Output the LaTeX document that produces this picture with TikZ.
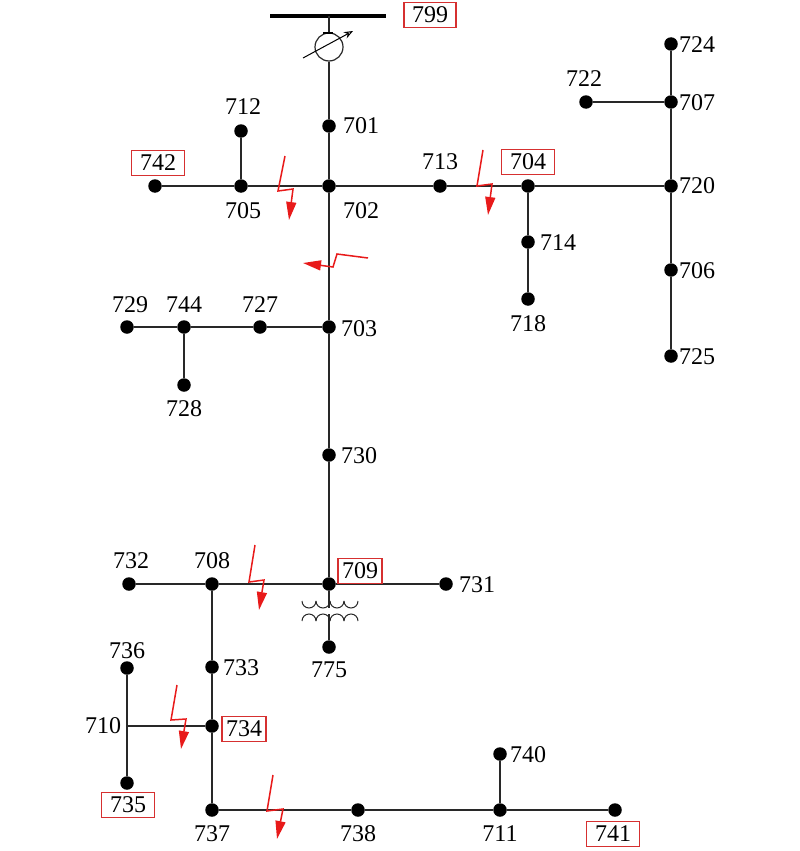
\documentclass[tikz,border=0pt]{standalone}
\usepackage{fontspec}
\setmainfont{Liberation Serif}
\usetikzlibrary{arrows.meta}
\definecolor{boxred}{RGB}{214,48,48}
\definecolor{fault}{RGB}{232,26,26}
\definecolor{wire}{RGB}{40,40,40}
\begin{document}
\begin{tikzpicture}[x=1pt,y=-1pt,
  bus/.style={circle,fill=black,inner sep=0pt,minimum size=13.5pt},
  lbl/.style={inner sep=0pt,font=\fontsize{24}{24}\selectfont},
  rbox/.style={draw=boxred,line width=1.2pt,inner sep=0pt,minimum width=53pt,minimum height=25pt,font=\fontsize{24}{24}\selectfont},
  sbox/.style={rbox,minimum width=44pt},
  wireline/.style={draw=wire,line width=1.4pt},
  faultarrow/.style={draw=fault,line width=1.5pt,-{Triangle[length=18pt,width=10pt]},fault}
]
\useasboundingbox (0,0) rectangle (800,851);

% source busbar and generator
\coordinate (barL) at (270,16);
\coordinate (barR) at (386,16);
\draw[line width=4.5pt,black] (barL) -- (barR);
\node[rbox,minimum width=52pt] (l799) at (430,15) {799};
\node[circle,draw=wire,line width=1.2pt,minimum size=28pt,inner sep=0pt] (gen) at (329,47) {};
\coordinate (barM) at (329,16);
\draw[wireline] (barM) -- (gen.north);
\coordinate (dashL) at (323,33);
\coordinate (dashR) at (333,33);
\draw[line width=2.2pt,black] (dashL) -- (dashR);
\coordinate (arrS) at (303,58);
\coordinate (arrE) at (353,31);
\draw[line width=1pt,black,-{Stealth[open,length=9pt,width=7pt]}] (arrS) -- (arrE);

% bus nodes
\node[bus] (n701) at (329,126) {};
\node[bus] (n702) at (329,186) {};
\node[bus] (n712) at (241,131) {};
\node[bus] (n705) at (241,186) {};
\node[bus] (n742) at (155,186) {};
\node[bus] (n713) at (440,186) {};
\node[bus] (n704) at (528,186) {};
\node[bus] (n720) at (671,186) {};
\node[bus] (n714) at (528,242) {};
\node[bus] (n718) at (528,299) {};
\node[bus] (n707) at (671,102) {};
\node[bus] (n724) at (671,44) {};
\node[bus] (n722) at (586,102) {};
\node[bus] (n706) at (671,270) {};
\node[bus] (n725) at (671,356) {};
\node[bus] (n703) at (329,327) {};
\node[bus] (n727) at (260,327) {};
\node[bus] (n744) at (184,327) {};
\node[bus] (n729) at (127,327) {};
\node[bus] (n728) at (184,385) {};
\node[bus] (n730) at (329,455) {};
\node[bus] (n709) at (329,584) {};
\node[bus] (n731) at (446,584) {};
\node[bus] (n708) at (212,584) {};
\node[bus] (n732) at (129,584) {};
\node[bus] (n775) at (329,647) {};
\node[bus] (n733) at (212,667) {};
\node[bus] (n734) at (212,726) {};
\coordinate (n710) at (127,726);
\node[bus] (n736) at (127,668) {};
\node[bus] (n735) at (127,783) {};
\node[bus] (n737) at (212,810) {};
\node[bus] (n738) at (358,810) {};
\node[bus] (n711) at (500,810) {};
\node[bus] (n740) at (500,754) {};
\node[bus] (n741) at (615,810) {};

% lines
\draw[wireline] (gen.south) -- (n701) -- (n702) -- (n703) -- (n730) -- (n709);
\draw[wireline] (n742) -- (n705) -- (n702) -- (n713) -- (n704) -- (n720);
\draw[wireline] (n705) -- (n712);
\draw[wireline] (n704) -- (n714) -- (n718);
\draw[wireline] (n724) -- (n707) -- (n720) -- (n706) -- (n725);
\draw[wireline] (n707) -- (n722);
\draw[wireline] (n703) -- (n727) -- (n744) -- (n729);
\draw[wireline] (n744) -- (n728);
\draw[wireline] (n732) -- (n708) -- (n709) -- (n731);
\draw[wireline] (n708) -- (n733) -- (n734) -- (n737);
\draw[wireline] (n734) -- (n710);
\draw[wireline] (n736) -- (n710) -- (n735);
\draw[wireline] (n737) -- (n738) -- (n711) -- (n741);
\draw[wireline] (n711) -- (n740);

% transformer
\coordinate (trTop) at (329,608);
\coordinate (trBot) at (329,614);
\draw[wireline] (n709) -- (trTop);
\draw[wireline] (trBot) -- (n775);
\foreach \i in {0,1,2,3}{
  \draw[draw=wire,line width=1pt] (302+14*\i,601) arc[start angle=180,end angle=0,radius=7];
  \draw[draw=wire,line width=1pt] (302+14*\i,621) arc[start angle=180,end angle=360,radius=7];
}

% labels
\node[lbl] (t701) at (361,126) {701};
\node[lbl] (t702) at (361,211) {702};
\node[lbl] (t712) at (243,107) {712};
\node[lbl] (t705) at (243,211) {705};
\node[rbox] (t742) at (158,163) {742};
\node[lbl] (t713) at (440,162) {713};
\node[rbox] (t704) at (528,162) {704};
\node[lbl] (t720) at (697,186) {720};
\node[lbl] (t714) at (558,243) {714};
\node[lbl] (t718) at (528,324) {718};
\node[lbl] (t722) at (584,79) {722};
\node[lbl] (t707) at (697,103) {707};
\node[lbl] (t724) at (697,45) {724};
\node[lbl] (t706) at (697,271) {706};
\node[lbl] (t725) at (697,357) {725};
\node[lbl] (t703) at (359,329) {703};
\node[lbl] (t727) at (260,305) {727};
\node[lbl] (t744) at (184,305) {744};
\node[lbl] (t729) at (130,305) {729};
\node[lbl] (t728) at (184,409) {728};
\node[lbl] (t730) at (359,456) {730};
\node[sbox] (t709) at (360,571) {709};
\node[lbl] (t731) at (477,585) {731};
\node[lbl] (t708) at (212,561) {708};
\node[lbl] (t732) at (131,561) {732};
\node[lbl] (t775) at (329,670) {775};
\node[lbl] (t733) at (241,668) {733};
\node[sbox] (t734) at (244,729) {734};
\node[lbl] (t710) at (103,726) {710};
\node[lbl] (t736) at (127,651) {736};
\node[rbox] (t735) at (128,805) {735};
\node[lbl] (t737) at (212,834) {737};
\node[lbl] (t738) at (358,834) {738};
\node[lbl] (t711) at (500,834) {711};
\node[lbl] (t740) at (528,755) {740};
\node[rbox] (t741) at (613,834) {741};

% fault markers
\draw[faultarrow] (285,156) -- (278,191) -- (293,189) -- (289,220);
\draw[faultarrow] (483,150) -- (477,186) -- (492,184) -- (488,215);
\draw[faultarrow] (368,258) -- (337,254) -- (333,267) -- (303,263);
\draw[faultarrow] (255,545) -- (249,582) -- (264,580) -- (259,610);
\draw[faultarrow] (177,685) -- (171,720) -- (186,719) -- (181,749);
\draw[faultarrow] (273,775) -- (267,811) -- (283,809) -- (277,839);
\end{tikzpicture}
\end{document}
